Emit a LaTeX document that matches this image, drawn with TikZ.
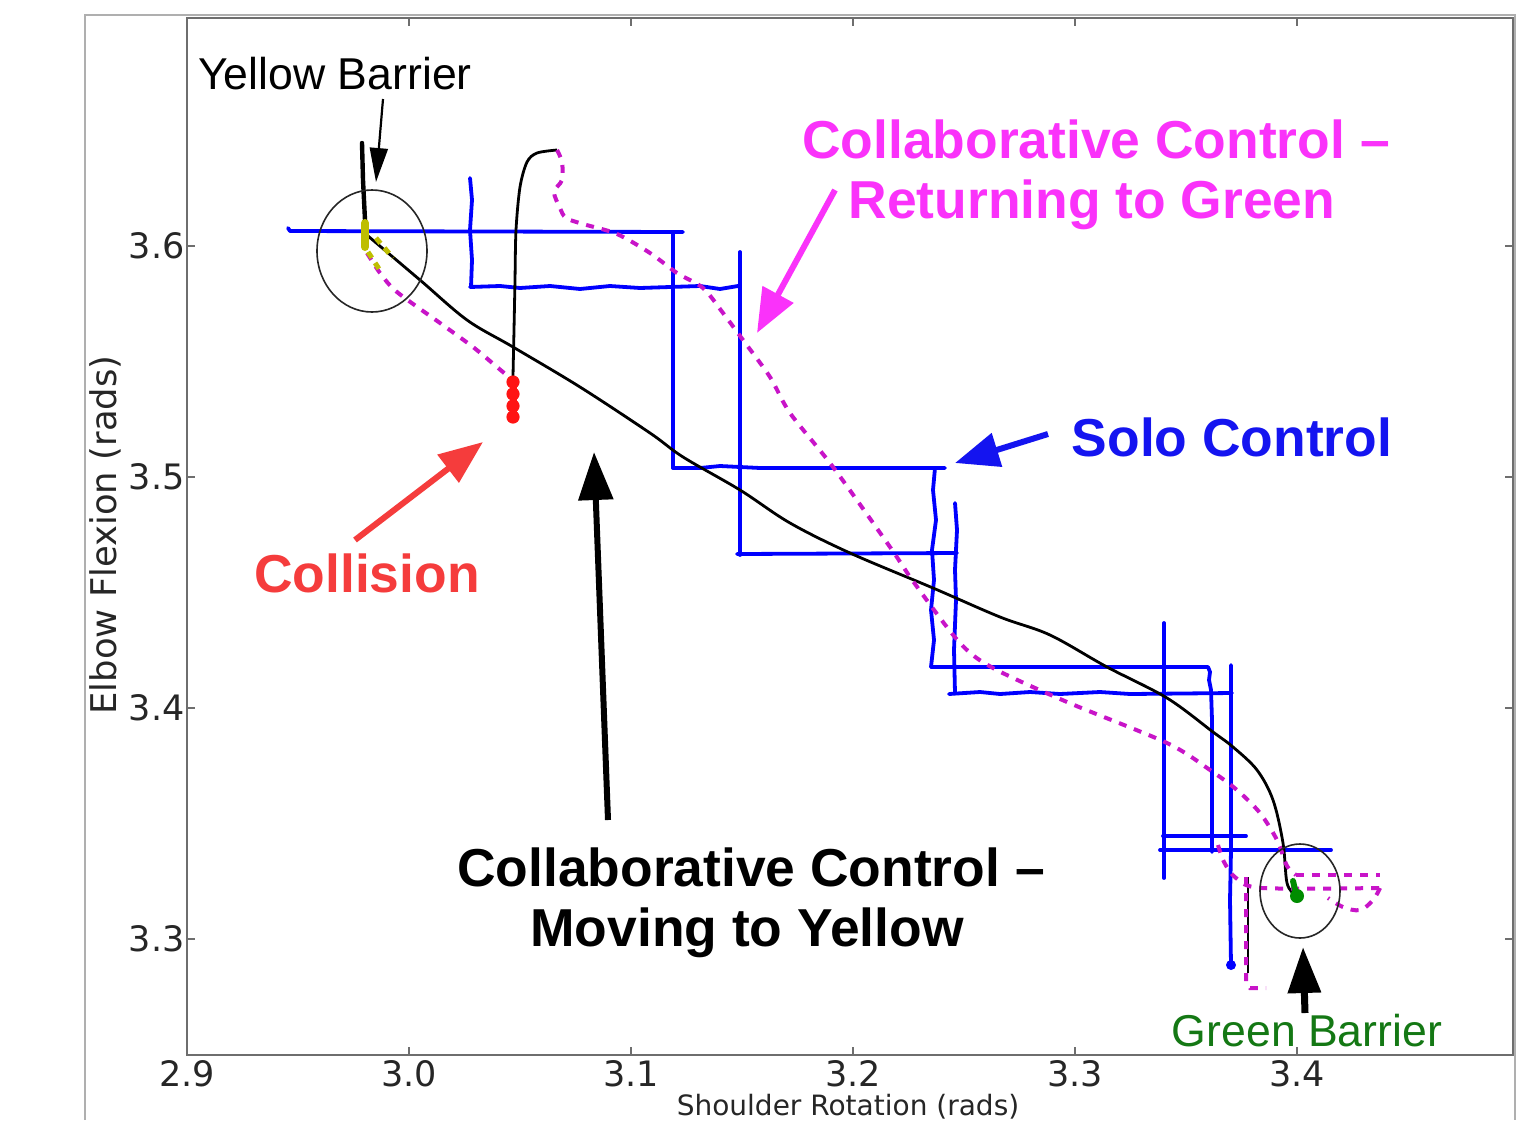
\documentclass[tikz,border=0pt]{standalone}
\usepackage{fontspec}
\setmainfont{Liberation Sans}
\newfontfamily\dejavu{DejaVu Sans}
\usetikzlibrary{arrows.meta}

\definecolor{solocol}{RGB}{0,0,255}
\definecolor{soloink}{RGB}{20,20,240}
\definecolor{retcol}{RGB}{200,20,200}
\definecolor{retink}{RGB}{250,50,250}
\definecolor{hitcol}{RGB}{255,20,20}
\definecolor{hitink}{RGB}{245,60,60}
\definecolor{goalink}{RGB}{20,120,20}
\definecolor{goaldot}{RGB}{0,140,0}
\definecolor{startcol}{RGB}{190,190,0}
\definecolor{framecol}{RGB}{110,110,110}
\definecolor{outercol}{RGB}{175,175,175}

\begin{document}
\begin{tikzpicture}[x=0.5pt,y=-0.5pt,
  solopath/.style={solocol, line width=1.9pt, line join=round, line cap=round},
  collab/.style={black, line width=1.4pt, line join=round},
  retpath/.style={retcol, line width=2pt, dash pattern=on 4pt off 4pt},
  barrier/.style={draw=black!85, line width=0.8pt},
  ticklab/.style={font=\dejavu\fontsize{17.5}{20}\selectfont, text=black!85, inner sep=0pt},
  axlab/.style={font=\dejavu\fontsize{17.7}{20}\selectfont, text=black!85, inner sep=0pt},
  callout/.style={font=\bfseries\fontsize{26.7}{30}\selectfont, anchor=base, inner sep=0pt},
  plainlab/.style={font=\fontsize{22.3}{26}\selectfont, anchor=base, inner sep=0pt},
  bigarrow/.style={line width=3pt, -{Triangle[length=22pt,width=17pt]}},
]
\useasboundingbox (0,0) rectangle (1531,1120);
\clip (0,0) rectangle (1531,1120);
\fill[white] (0,0) rectangle (1531,1120);

% figure frame and axes box
\draw[outercol, line width=0.8pt] (85,1120) -- (85,15) -- (1515,15) -- (1515,1120);
\draw[framecol, line width=0.9pt] (187,18) rectangle (1513,1055);

% ticks
\foreach \i in {0,...,5} {
  \draw[framecol, line width=0.7pt] ({187+222*\i},1055) -- ({187+222*\i},1047);
  \draw[framecol, line width=0.7pt] ({187+222*\i},18) -- ({187+222*\i},26);
}
\foreach \yy in {246,477,708,939} {
  \draw[framecol, line width=0.7pt] (187,\yy) -- (195,\yy);
  \draw[framecol, line width=0.7pt] (1513,\yy) -- (1505,\yy);
}

% tick labels
\node[ticklab] (x29) at (187,1074) {2.9};
\node[ticklab] (x30) at (409,1074) {3.0};
\node[ticklab] (x31) at (631,1074) {3.1};
\node[ticklab] (x32) at (853,1074) {3.2};
\node[ticklab] (x33) at (1075,1074) {3.3};
\node[ticklab] (x34) at (1297,1074) {3.4};
\node[ticklab, anchor=east] (y36) at (185,246) {3.6};
\node[ticklab, anchor=east] (y35) at (185,477) {3.5};
\node[ticklab, anchor=east] (y34) at (185,708) {3.4};
\node[ticklab, anchor=east] (y33) at (185,939) {3.3};

% axis titles
\node[axlab, rotate=90] (ylab) at (105,535) {Elbow Flexion (rads)};
\node[axlab, anchor=base, font=\dejavu\fontsize{14}{16}\selectfont] (xlab) at (848,1115) {Shoulder Rotation (rads)};

% solo control: staircase trajectory
\draw[solopath] (288,228) -- (290,231) -- (683,232);
\draw[solopath] (470,178) -- (472,200) -- (470,230) -- (472,260) -- (471,287);
\draw[solopath] (470,287) -- (500,286) -- (520,288) -- (550,286) -- (580,289) -- (610,286)
  -- (640,288) -- (670,287) -- (700,286) -- (720,289) -- (738,286) -- (740,287);
\draw[solopath] (673,232) -- (673,468);
\draw[solopath] (740,252) -- (740,555);
\draw[solopath] (673,468) -- (700,468) -- (720,466) -- (760,468) -- (945,468);
\draw[solopath] (737,554) -- (957,553);
\draw[solopath] (935,468) -- (933,490) -- (936,520) -- (932,550) -- (934,580) -- (931,610)
  -- (934,640) -- (931,667);
\draw[solopath] (955,503) -- (957,530) -- (955,570) -- (956,600) -- (954,650) -- (955,693);
\draw[solopath] (931,667) -- (1208,667) -- (1210,672) -- (1209,680) -- (1211,690)
  -- (1212,720) -- (1212,852);
\draw[solopath] (949,694) -- (980,692) -- (1000,694) -- (1030,692) -- (1060,694)
  -- (1100,692) -- (1130,694) -- (1232,693);
\draw[solopath] (1164,623) -- (1164,878);
\draw[solopath] (1231,665) -- (1231,850) -- (1230,900) -- (1231,965);
\fill[solocol] (1231,965) circle (2.5pt);
\draw[solopath] (1163,836) -- (1246,836);
\draw[solopath] (1160,850) -- (1331,850);

% collaborative control, moving to yellow
\draw[collab] plot[smooth, tension=0.55] coordinates {
  (368,236) (420,280) (467,320) (513,347) (580,387) (650,433) (683,457) (740,490)
  (790,523) (850,553) (933,588) (1000,617) (1050,635) (1107,667) (1167,698)
  (1213,732) (1233,747) (1257,770) (1273,800) (1283,843) (1287,883) (1295,895)};
\draw[black, line width=2.2pt, line cap=round] (362,143) -- (363,180) -- (365,220) -- (366,238);
\draw[collab] plot[smooth, tension=0.5] coordinates {
  (513,395) (513,377) (514,330) (515,280) (516,230) (520,187) (527,162) (537,153) (557,150)};
\draw[collab] (1248,877) -- (1248,973);

% collaborative control, returning to green
\draw[retpath] plot[smooth, tension=0.5] coordinates {
  (367,253) (380,273) (397,292) (440,323) (473,347) (497,367) (510,378)};
\draw[retpath] plot[smooth, tension=0.5] coordinates {
  (557,150) (562,162) (562,180) (554,192) (560,208) (566,218) (583,224) (617,234)
  (650,253) (677,273) (703,288) (723,313) (743,340) (770,377) (790,413) (833,467)
  (890,547) (915,584) (960,643) (993,668) (1067,702) (1167,743) (1210,770)
  (1237,790) (1260,813) (1277,840) (1287,866) (1296,875)};
\draw[retpath] (1296,875) -- (1380,875);
\draw[retpath] plot[smooth, tension=0.5] coordinates {
  (1218,845) (1224,862) (1236,878) (1262,888) (1380,888)};
\draw[retpath] plot[smooth, tension=0.6] coordinates {
  (1380,888) (1373,900) (1360,910) (1343,907) (1328,898)};
\draw[retpath] (1246,877) -- (1246,982) -- (1250,988) -- (1266,988);

% start and end markers
\draw[startcol, line width=4pt, line cap=round] (365,223) -- (365,247);
\draw[startcol, line width=2.5pt, dash pattern=on 3.5pt off 3pt] (368,252) -- (381,272);
\draw[startcol, line width=2.5pt, dash pattern=on 3.5pt off 3pt] (376,238) -- (393,258);
\draw[hitcol, line width=3.5pt] (513,379) -- (513,418);
\foreach \yy in {382,394,406,417} \fill[hitcol] (513,\yy) circle (3.3pt);
\draw[goaldot, line width=3pt, line cap=round] (1293,881) -- (1297,898);
\fill[goaldot] (1297,896) circle (3.5pt);

% barrier regions
\draw[barrier] (372,251) ellipse [x radius=27.5pt, y radius=30.5pt];
\draw[barrier] (1300,891) ellipse [x radius=20pt, y radius=23.5pt];

% annotations
\node[plainlab] (ybar) at (335,89) {Yellow Barrier};
\coordinate (ybarfrom) at (383,99);
\coordinate (ybarto) at (376,182);
\draw[black, line width=1.1pt, -{Triangle[length=17pt,width=9pt]}] (ybarfrom) -- (ybarto);

\node[callout, text=retink] (ret1) at (1096,158) {Collaborative Control –};
\node[callout, text=retink] (ret2) at (1092,218) {Returning to Green};
\coordinate (retfrom) at (835,190);
\coordinate (retto) at (757,333);
\draw[bigarrow, retink] (retfrom) -- (retto);

\node[callout, text=soloink] (solo) at (1232,456) {Solo Control};
\coordinate (solofrom) at (1048,434);
\coordinate (soloto) at (955,463);
\draw[bigarrow, soloink] (solofrom) -- (soloto);

\node[callout, text=hitink] (hit) at (367,592) {Collision};
\coordinate (hitfrom) at (355,540);
\coordinate (hitto) at (483,442);
\draw[bigarrow, hitink] (hitfrom) -- (hitto);

\node[callout, text=black] (mov1) at (751,886) {Collaborative Control –};
\node[callout, text=black] (mov2) at (747,946) {Moving to Yellow};
\coordinate (movfrom) at (608,820);
\coordinate (movto) at (594,452);
\draw[bigarrow, black, -{Triangle[length=24pt,width=17pt]}] (movfrom) -- (movto);

\node[plainlab, text=goalink] (gbar) at (1307,1046) {Green Barrier};
\coordinate (gbarfrom) at (1305,1013);
\coordinate (gbarto) at (1303,947);
\draw[black, line width=3.5pt, -{Triangle[length=23pt,width=16pt]}] (gbarfrom) -- (gbarto);
\end{tikzpicture}
\end{document}
